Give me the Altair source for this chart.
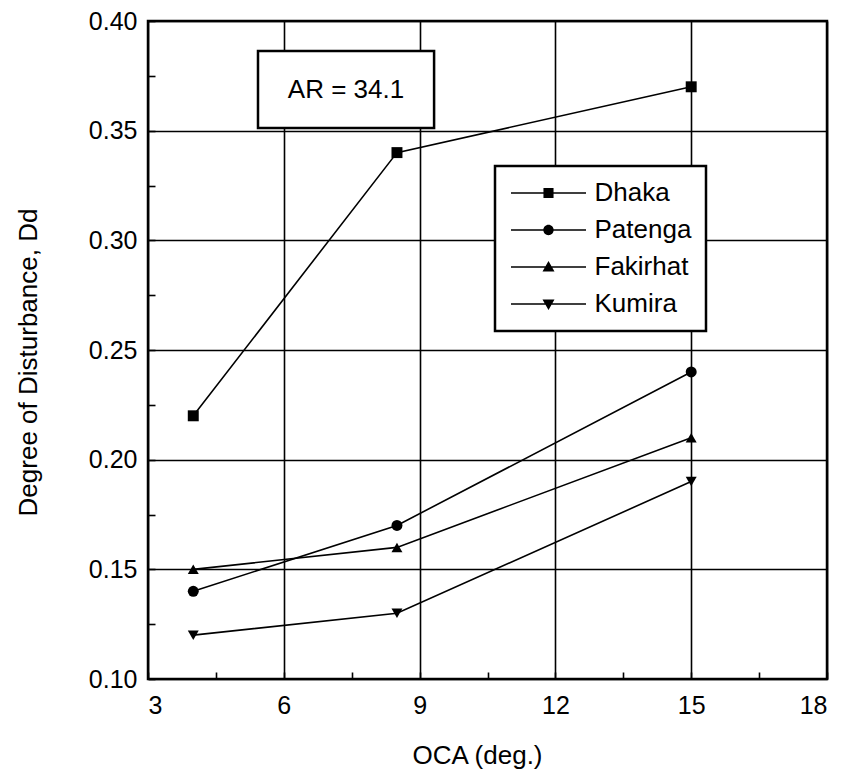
import altair as alt
import pandas as pd

# ---- data ----
oca = [4, 8.5, 15]
dhaka = [0.22, 0.34, 0.37]
patenga = [0.14, 0.17, 0.24]
fakirhat = [0.15, 0.16, 0.21]
kumira = [0.12, 0.13, 0.19]
sites = ["Dhaka", "Patenga", "Fakirhat", "Kumira"]

x_ticks = [3, 4.5, 6, 7.5, 9, 10.5, 12, 13.5, 15, 16.5, 18]
y_ticks = [0.10, 0.125, 0.15, 0.175, 0.20, 0.225, 0.25, 0.275, 0.30, 0.325, 0.35, 0.375, 0.40]

annot_text = ["AR = 34.1"]
annot_x = [5.43, 9.32]
annot_y = [0.3512, 0.3863]

rows = []
for site, vals in zip(sites, [dhaka, patenga, fakirhat, kumira]):
    for xv, yv in zip(oca, vals):
        rows.append({"Site": site, "Entry": site, "OCA": xv, "Dd": yv})
df = pd.DataFrame(rows)

box = pd.DataFrame({
    "x": [annot_x[0]], "x2": [annot_x[1]],
    "y": [annot_y[0]], "y2": [annot_y[1]],
    "xc": [(annot_x[0] + annot_x[1]) / 2], "yc": [(annot_y[0] + annot_y[1]) / 2],
    "label": annot_text,
})

FONT = "Liberation Sans"
TICK = 7

xscale = alt.Scale(domain=[3, 18], nice=False, zero=False)
yscale = alt.Scale(domain=[0.10, 0.40], nice=False, zero=False)

x_major = "datum.value % 3 === 0"
y_major = "abs(datum.value * 20 - round(datum.value * 20)) < 0.001"

x_axis = alt.Axis(
    values=x_ticks, title="OCA (deg.)",
    labelExpr=f"{x_major} ? format(datum.value, 'd') : ''",
    gridOpacity={"condition": {"test": x_major, "value": 1}, "value": 0},
    offset=-TICK, tickSize=TICK, labelPadding=14,
    titleX=329, titleY=91, titleAlign="center", titleBaseline="alphabetic",
)
y_axis = alt.Axis(
    values=y_ticks, title="Degree of Disturbance, Dd",
    labelExpr=f"{y_major} ? format(datum.value, '.2f') : ''",
    gridOpacity={"condition": {"test": y_major, "value": 1}, "value": 0},
    offset=-TICK, tickSize=TICK, labelPadding=11,
    titleX=-127, titleY=341, titleAngle=270, titleAlign="center", titleBaseline="middle",
)

base = alt.Chart(df)

lines = base.mark_line(color="black", strokeWidth=1.6).encode(
    x=alt.X("OCA:Q", scale=xscale, axis=x_axis),
    y=alt.Y("Dd:Q", scale=yscale, axis=y_axis),
    detail="Site:N",
)

points = base.mark_point(filled=True, color="black", size=120, opacity=1).encode(
    x=alt.X("OCA:Q", scale=xscale),
    y=alt.Y("Dd:Q", scale=yscale),
    shape=alt.Shape("Site:N", scale=alt.Scale(domain=sites,
                    range=["square", "circle", "triangle-up", "triangle-down"]), legend=None),
)

# legend glyphs: a thin filled bar (the line) with the marker in the middle (unit = 12 px)
BAR = "M-3.125,-0.065H3.125V0.065H-3.125Z"
legend_paths = [
    BAR + "M-0.42,-0.42H0.42V0.42H-0.42Z",
    BAR + "M0.43,0A0.43,0.43,0,1,1,-0.43,0A0.43,0.43,0,1,1,0.43,0Z",
    BAR + "M0,-0.5L0.5,0.38L-0.5,0.38Z",
    BAR + "M0,0.5L-0.5,-0.38L0.5,-0.38Z",
]

legend_layer = base.mark_point(opacity=0, filled=True, color="black").encode(
    x=alt.X("OCA:Q", scale=xscale),
    y=alt.Y("Dd:Q", scale=yscale),
    shape=alt.Shape(
        "Entry:N",
        scale=alt.Scale(domain=sites, range=legend_paths),
        legend=alt.Legend(
            title=None, orient="none", legendX=347, legendY=145,
            labelFont=FONT, labelFontSize=26, labelColor="black", labelLimit=0,
            labelOffset=33, symbolOffset=26.5, symbolSize=576, symbolStrokeWidth=0,
            symbolFillColor="black", symbolOpacity=1,
            strokeColor="black", fillColor="white", padding=14, rowPadding=11,
        ),
    ),
)

rect = alt.Chart(box).mark_rect(fill="white", stroke="black", strokeWidth=2.5).encode(
    x=alt.X("x:Q", scale=xscale), x2="x2:Q",
    y=alt.Y("y:Q", scale=yscale), y2="y2:Q",
)
label = alt.Chart(box).mark_text(font=FONT, fontSize=26, color="black",
                                 baseline="middle", align="center").encode(
    x=alt.X("xc:Q", scale=xscale), y=alt.Y("yc:Q", scale=yscale), text="label:N",
)

chart = alt.layer(rect, label, lines, points, legend_layer).resolve_scale(
    shape="independent"
).resolve_legend(shape="independent").properties(
    width=679, height=658,
    autosize=alt.AutoSizeParams(type="none"),
    padding={"left": 148, "top": 21, "right": 21, "bottom": 92},
    background="white",
).configure_view(
    stroke="black", strokeWidth=2.5
).configure_axis(
    domain=False, grid=True, gridColor="black", gridWidth=1.6,
    tickColor="black", tickWidth=1.6,
    labelFont=FONT, labelFontSize=25, labelColor="black",
    titleFont=FONT, titleFontSize=26, titleColor="black", titleFontWeight="normal",
).configure_legend(
    strokeWidth=2.5
)

chart.save("out.html", embed_options={"renderer": "svg", "actions": False})
